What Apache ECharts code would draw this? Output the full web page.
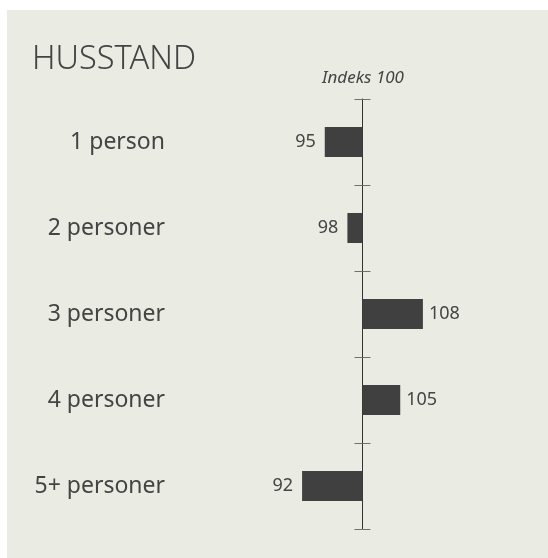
<!DOCTYPE html>
<html>
<head>
<meta charset="utf-8">
<script src="https://cdn.jsdelivr.net/npm/echarts@6/dist/echarts.min.js"></script>
<style>
  html, body { margin: 0; padding: 0; background: #fff; }
  #chart {
    width: 548px; height: 558px;
    background: linear-gradient(#eaece3, #eaece3) 7px 10px / 541px 548px no-repeat, #ffffff;
  }
</style>
</head>
<body>
<div id="chart"></div>
<script>
const titleText = 'HUSSTAND';
const axisTitle = 'Indeks 100';
const categories = ['1 person', '2 personer', '3 personer', '4 personer', '5+ personer'];
const values = [95, 98, 108, 105, 92];
const baseIndex = 100;
const axisHalfRange = 10;

const font = '"Noto Sans", "Open Sans", sans-serif';
const textColor = '#444444';
const barColor = '#404040';

const chart = echarts.init(document.getElementById('chart'), null, { renderer: 'canvas' });

const option = {
  backgroundColor: 'transparent',
  animation: false,
  title: [
    {
      text: titleText,
      left: 32, top: 43,
      padding: 0,
      textStyle: { fontFamily: font, fontSize: 32.5, fontWeight: 300, color: textColor }
    },
    {
      text: axisTitle,
      left: 363, top: 70,
      textAlign: 'center',
      padding: 0,
      textStyle: { fontFamily: font, fontSize: 17, fontStyle: 'italic', fontWeight: 'normal', color: textColor }
    }
  ],
  grid: { left: 287, right: 110, top: 99, bottom: 29, containLabel: false, outerBoundsMode: 'none' },
  xAxis: {
    type: 'value',
    min: -axisHalfRange,
    max: axisHalfRange,
    show: false
  },
  yAxis: [
    {
      type: 'category',
      data: categories,
      inverse: true,
      position: 'left',
      axisLine: { show: true, onZero: true, onZeroAxisIndex: 0, lineStyle: { color: '#333333', width: 1 } },
      axisTick: { show: true, inside: false, length: 8, lineStyle: { color: '#707070', width: 1 } },
      axisLabel: {
        show: true, margin: 122,
        fontFamily: font, fontSize: 23, color: textColor
      },
      splitLine: { show: false }
    },
    {
      type: 'category',
      data: categories,
      inverse: true,
      position: 'left',
      axisLine: { show: false, onZero: true, onZeroAxisIndex: 0 },
      axisTick: { show: true, inside: true, length: 8, lineStyle: { color: '#707070', width: 1 } },
      axisLabel: { show: false },
      splitLine: { show: false }
    }
  ],
  series: [
    {
      type: 'bar',
      yAxisIndex: 0,
      barWidth: 30,
      itemStyle: { color: barColor },
      data: values.map(v => ({
        value: v - baseIndex,
        label: {
          show: true,
          position: v < baseIndex ? 'left' : 'right',
          distance: v < baseIndex ? 9 : 6
        }
      })),
      label: {
        show: true,
        fontFamily: font,
        fontSize: 18,
        color: textColor,
        formatter: p => String(values[p.dataIndex])
      }
    }
  ]
};

chart.setOption(option);
</script>
</body>
</html>
